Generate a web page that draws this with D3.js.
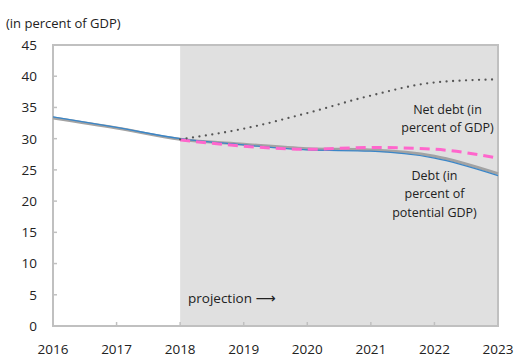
<!DOCTYPE html>
<html><head><meta charset="utf-8">
<script src="https://cdn.jsdelivr.net/npm/d3@7/dist/d3.min.js"></script>
<style>body{margin:0;background:#fff}text{font-family:"Open Sans","Noto Sans",sans-serif;fill:#222}</style>
</head><body><svg id="c" width="517" height="358"></svg>
<script>
const years = [2016, 2017, 2018, 2019, 2020, 2021, 2022, 2023];
const debtGDP = [33.5, 31.8, 30.0, 29.0, 28.2, 28.0, 26.9, 24.1];
const debtPotential = [33.3, 31.7, 29.9, 29.1, 28.4, 28.2, 27.2, 24.4];
const projYears = [2018, 2019, 2020, 2021, 2022, 2023];
const debtPink = [29.8, 28.8, 28.3, 28.6, 28.3, 26.9];
const netDebt = [29.9, 31.6, 34.1, 36.9, 39.0, 39.5];
const yTicks = [0, 5, 10, 15, 20, 25, 30, 35, 40, 45];

const svg = d3.select("#c");
const x = d3.scaleLinear().domain([2016, 2023]).range([53, 498]);
const y = d3.scaleLinear().domain([0, 45]).range([326, 45]);

svg.append("rect").attr("x", x(2018)).attr("y", y(45)).attr("width", x(2023) - x(2018)).attr("height", y(0) - y(45)).attr("fill", "#e0e0e0");

const frame = "#c0c0c0";
svg.append("g").selectAll("line").data(yTicks).join("line")
  .attr("x1", x(2016)).attr("x2", x(2016) + 4).attr("y1", d => y(d)).attr("y2", d => y(d))
  .attr("stroke", frame).attr("stroke-width", 1.5);
svg.append("g").selectAll("line").data(years).join("line")
  .attr("x1", d => x(d)).attr("x2", d => x(d)).attr("y1", y(0)).attr("y2", y(0) - 4)
  .attr("stroke", frame).attr("stroke-width", 1.5);

svg.append("rect").attr("x", x(2016)).attr("y", y(45)).attr("width", x(2023) - x(2016)).attr("height", y(0) - y(45))
  .attr("fill", "none").attr("stroke", frame).attr("stroke-width", 2);

svg.append("g").selectAll("text").data(yTicks).join("text")
  .attr("x", 37).attr("y", d => y(d)).attr("dy", "0.36em").attr("text-anchor", "end").attr("font-size", 13.5).text(d => d);
svg.append("g").selectAll("text").data(years).join("text")
  .attr("x", d => x(d)).attr("y", 349).attr("dy", "0.36em").attr("text-anchor", "middle").attr("font-size", 13.5).text(d => d);

svg.append("text").attr("x", 6).attr("y", 23).attr("dy", "0.36em").attr("font-size", 13).text("(in percent of GDP)");

const line = d3.line().curve(d3.curveMonotoneX);
svg.append("path").attr("d", line(years.map((d, i) => [x(d), y(debtPotential[i])])))
  .attr("fill", "none").attr("stroke", "#a3a3a3").attr("stroke-width", 3);
svg.append("path").attr("d", line(years.map((d, i) => [x(d), y(debtGDP[i])])))
  .attr("fill", "none").attr("stroke", "#3a86c8").attr("stroke-width", 1.3);
svg.append("path").attr("d", line(projYears.map((d, i) => [x(d), y(debtPink[i])])))
  .attr("fill", "none").attr("stroke", "#ff66cc").attr("stroke-width", 3).attr("stroke-dasharray", "10,6");
svg.append("path").attr("d", line(projYears.map((d, i) => [x(d), y(netDebt[i])])))
  .attr("fill", "none").attr("stroke", "#555").attr("stroke-width", 2.3).attr("stroke-linecap", "round").attr("stroke-dasharray", "0,6.5");

function multi(lines, cx, cy, lh) {
  const t = svg.append("text").attr("text-anchor", "middle").attr("font-size", 12.5);
  lines.forEach((s, i) => t.append("tspan").attr("x", cx).attr("y", cy + i * lh).attr("dy", "0.36em").text(s));
}
multi(["Net debt (in", "percent of GDP)"], 447.5, 109, 18.5);
multi(["Debt (in", "percent of", "potential GDP)"], 434.5, 175, 18.5);

const pj = svg.append("text").attr("x", 188).attr("y", 298).attr("dy", "0.36em").attr("font-size", 13.5);
pj.append("tspan").text("projection ");
pj.append("tspan").attr("font-family", "DejaVu Sans").attr("font-size", 14).text("\u27F6");
</script></body></html>
